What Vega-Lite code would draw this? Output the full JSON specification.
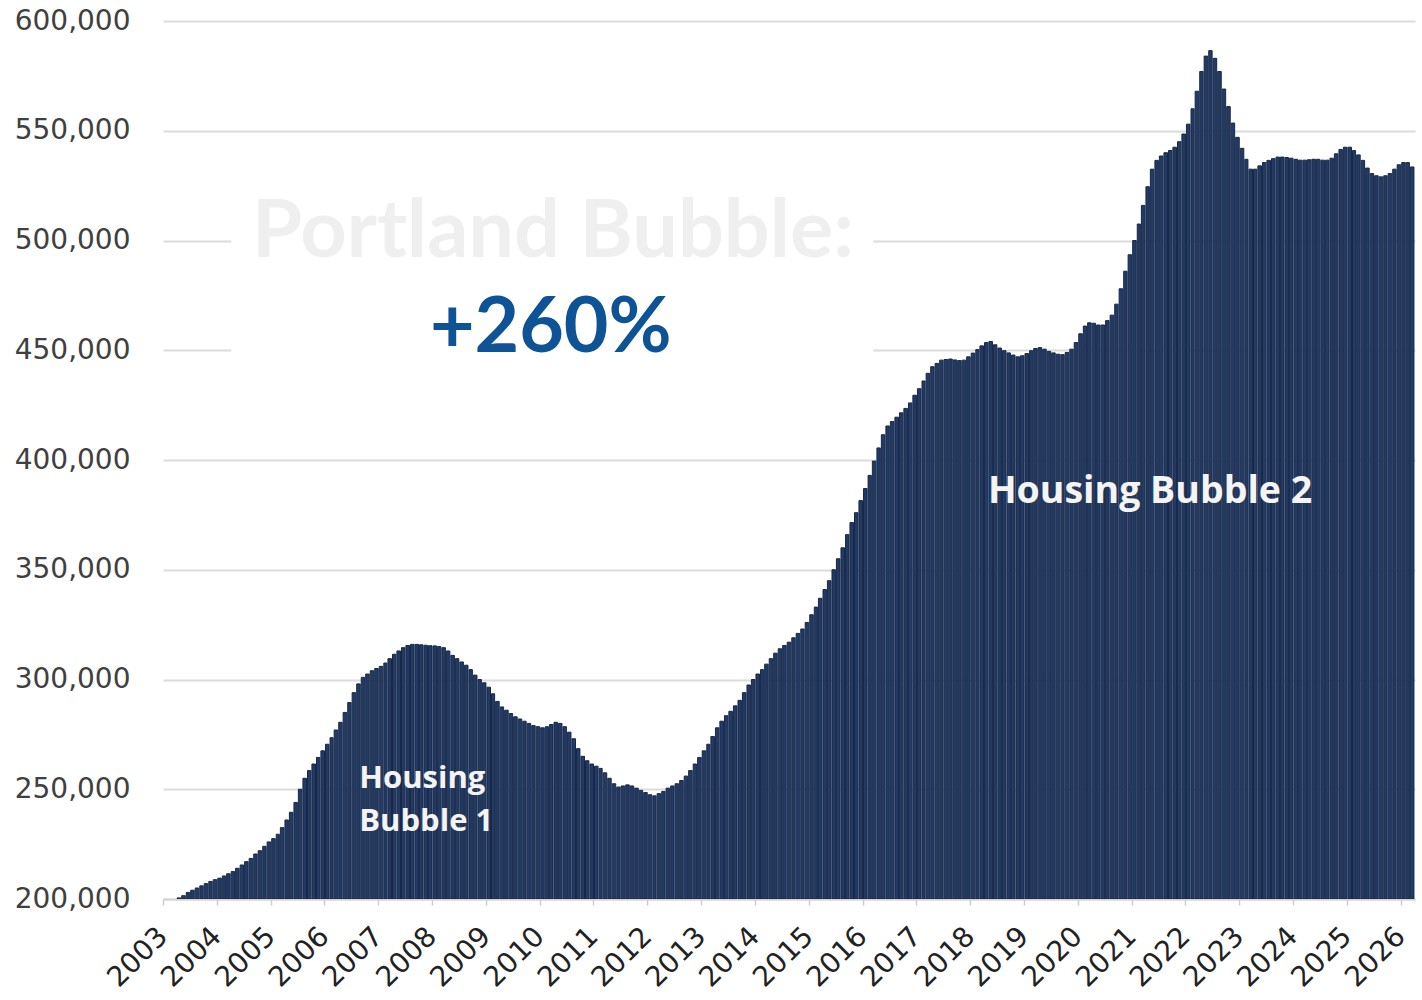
{
  "$schema": "https://vega.github.io/schema/vega-lite/v6.json",
  "width": 1252,
  "height": 878,
  "autosize": "none",
  "padding": {"left": 163, "top": 21, "right": 7, "bottom": 101},
  "background": "white",
  "config": {"view": {"stroke": null}},
  "datasets": {
    "notes": [
      {"label": "box", "date": "2004-04-08", "date2": "2016-03-15", "price": 540000, "price2": 430000},
      {"label": "Portland Bubble:", "date": "2010-04-01", "price": 492500},
      {"label": "+260%", "date": "2010-03-17", "price": 449200},
      {"label": "Housing Bubble 2", "date": "2018-05-01", "price": 380400},
      {"label": "Housing", "date": "2006-08-25", "price": 250550},
      {"label": "Bubble 1", "date": "2006-08-25", "price": 230960}
    ],
    "prices": [
    {"date":"2003-04","price":200500},{"date":"2003-05","price":201500},{"date":"2003-06","price":203000},{"date":"2003-07","price":204000},{"date":"2003-08","price":205000},{"date":"2003-09","price":206000},{"date":"2003-10","price":207000},{"date":"2003-11","price":208000},{"date":"2003-12","price":208800},
    {"date":"2004-01","price":209500},{"date":"2004-02","price":210500},{"date":"2004-03","price":211500},{"date":"2004-04","price":212500},{"date":"2004-05","price":214000},{"date":"2004-06","price":215500},{"date":"2004-07","price":217000},{"date":"2004-08","price":218500},{"date":"2004-09","price":220500},{"date":"2004-10","price":222000},{"date":"2004-11","price":224000},{"date":"2004-12","price":226000},
    {"date":"2005-01","price":227500},{"date":"2005-02","price":229500},{"date":"2005-03","price":232500},{"date":"2005-04","price":236000},{"date":"2005-05","price":239500},{"date":"2005-06","price":244000},{"date":"2005-07","price":250000},{"date":"2005-08","price":255000},{"date":"2005-09","price":258500},{"date":"2005-10","price":261500},{"date":"2005-11","price":264500},{"date":"2005-12","price":267500},
    {"date":"2006-01","price":270500},{"date":"2006-02","price":273500},{"date":"2006-03","price":277000},{"date":"2006-04","price":280500},{"date":"2006-05","price":285000},{"date":"2006-06","price":289500},{"date":"2006-07","price":294000},{"date":"2006-08","price":298000},{"date":"2006-09","price":301000},{"date":"2006-10","price":302500},{"date":"2006-11","price":304000},{"date":"2006-12","price":305000},
    {"date":"2007-01","price":306000},{"date":"2007-02","price":307500},{"date":"2007-03","price":309500},{"date":"2007-04","price":311500},{"date":"2007-05","price":313000},{"date":"2007-06","price":314500},{"date":"2007-07","price":315500},{"date":"2007-08","price":316000},{"date":"2007-09","price":316000},{"date":"2007-10","price":315800},{"date":"2007-11","price":315600},{"date":"2007-12","price":315400},
    {"date":"2008-01","price":315300},{"date":"2008-02","price":315000},{"date":"2008-03","price":314500},{"date":"2008-04","price":313000},{"date":"2008-05","price":311000},{"date":"2008-06","price":309500},{"date":"2008-07","price":308000},{"date":"2008-08","price":306500},{"date":"2008-09","price":304500},{"date":"2008-10","price":302000},{"date":"2008-11","price":300000},{"date":"2008-12","price":298500},
    {"date":"2009-01","price":296500},{"date":"2009-02","price":293500},{"date":"2009-03","price":290000},{"date":"2009-04","price":287500},{"date":"2009-05","price":286000},{"date":"2009-06","price":284500},{"date":"2009-07","price":283000},{"date":"2009-08","price":282000},{"date":"2009-09","price":281000},{"date":"2009-10","price":280000},{"date":"2009-11","price":279000},{"date":"2009-12","price":278500},
    {"date":"2010-01","price":278000},{"date":"2010-02","price":278500},{"date":"2010-03","price":279500},{"date":"2010-04","price":280500},{"date":"2010-05","price":280000},{"date":"2010-06","price":278500},{"date":"2010-07","price":276000},{"date":"2010-08","price":273000},{"date":"2010-09","price":268500},{"date":"2010-10","price":265000},{"date":"2010-11","price":263000},{"date":"2010-12","price":261500},
    {"date":"2011-01","price":260500},{"date":"2011-02","price":259500},{"date":"2011-03","price":257500},{"date":"2011-04","price":255000},{"date":"2011-05","price":252500},{"date":"2011-06","price":251000},{"date":"2011-07","price":251500},{"date":"2011-08","price":252000},{"date":"2011-09","price":251500},{"date":"2011-10","price":250500},{"date":"2011-11","price":249500},{"date":"2011-12","price":248500},
    {"date":"2012-01","price":247500},{"date":"2012-02","price":247000},{"date":"2012-03","price":248000},{"date":"2012-04","price":249000},{"date":"2012-05","price":250500},{"date":"2012-06","price":251500},{"date":"2012-07","price":252500},{"date":"2012-08","price":254000},{"date":"2012-09","price":256000},{"date":"2012-10","price":258500},{"date":"2012-11","price":261500},{"date":"2012-12","price":264500},
    {"date":"2013-01","price":267500},{"date":"2013-02","price":270500},{"date":"2013-03","price":274000},{"date":"2013-04","price":278000},{"date":"2013-05","price":281000},{"date":"2013-06","price":283500},{"date":"2013-07","price":285500},{"date":"2013-08","price":288000},{"date":"2013-09","price":290500},{"date":"2013-10","price":294000},{"date":"2013-11","price":297500},{"date":"2013-12","price":300000},
    {"date":"2014-01","price":302500},{"date":"2014-02","price":304500},{"date":"2014-03","price":307000},{"date":"2014-04","price":309500},{"date":"2014-05","price":312000},{"date":"2014-06","price":314000},{"date":"2014-07","price":315500},{"date":"2014-08","price":317000},{"date":"2014-09","price":319000},{"date":"2014-10","price":321000},{"date":"2014-11","price":323000},{"date":"2014-12","price":326000},
    {"date":"2015-01","price":329500},{"date":"2015-02","price":333000},{"date":"2015-03","price":337000},{"date":"2015-04","price":341000},{"date":"2015-05","price":345000},{"date":"2015-06","price":350000},{"date":"2015-07","price":355000},{"date":"2015-08","price":360000},{"date":"2015-09","price":366000},{"date":"2015-10","price":371500},{"date":"2015-11","price":376000},{"date":"2015-12","price":381500},
    {"date":"2016-01","price":387000},{"date":"2016-02","price":393000},{"date":"2016-03","price":399500},{"date":"2016-04","price":405500},{"date":"2016-05","price":411500},{"date":"2016-06","price":415500},{"date":"2016-07","price":417500},{"date":"2016-08","price":419500},{"date":"2016-09","price":421500},{"date":"2016-10","price":423500},{"date":"2016-11","price":426000},{"date":"2016-12","price":429500},
    {"date":"2017-01","price":432500},{"date":"2017-02","price":436000},{"date":"2017-03","price":439500},{"date":"2017-04","price":442500},{"date":"2017-05","price":444000},{"date":"2017-06","price":445500},{"date":"2017-07","price":445800},{"date":"2017-08","price":446000},{"date":"2017-09","price":445600},{"date":"2017-10","price":445300},{"date":"2017-11","price":445500},{"date":"2017-12","price":447000},
    {"date":"2018-01","price":448700},{"date":"2018-02","price":450300},{"date":"2018-03","price":452000},{"date":"2018-04","price":453500},{"date":"2018-05","price":454000},{"date":"2018-06","price":452500},{"date":"2018-07","price":451000},{"date":"2018-08","price":449800},{"date":"2018-09","price":448800},{"date":"2018-10","price":447800},{"date":"2018-11","price":447000},{"date":"2018-12","price":447500},
    {"date":"2019-01","price":448500},{"date":"2019-02","price":449800},{"date":"2019-03","price":450800},{"date":"2019-04","price":451200},{"date":"2019-05","price":450500},{"date":"2019-06","price":449500},{"date":"2019-07","price":448800},{"date":"2019-08","price":448200},{"date":"2019-09","price":448000},{"date":"2019-10","price":449000},{"date":"2019-11","price":450500},{"date":"2019-12","price":453500},
    {"date":"2020-01","price":457500},{"date":"2020-02","price":461000},{"date":"2020-03","price":462500},{"date":"2020-04","price":462300},{"date":"2020-05","price":461500},{"date":"2020-06","price":461500},{"date":"2020-07","price":463500},{"date":"2020-08","price":466000},{"date":"2020-09","price":471000},{"date":"2020-10","price":478000},{"date":"2020-11","price":486000},{"date":"2020-12","price":493500},
    {"date":"2021-01","price":500000},{"date":"2021-02","price":507500},{"date":"2021-03","price":516000},{"date":"2021-04","price":524500},{"date":"2021-05","price":532500},{"date":"2021-06","price":536500},{"date":"2021-07","price":538500},{"date":"2021-08","price":540000},{"date":"2021-09","price":541000},{"date":"2021-10","price":542500},{"date":"2021-11","price":545000},{"date":"2021-12","price":548500},
    {"date":"2022-01","price":553000},{"date":"2022-02","price":560000},{"date":"2022-03","price":568000},{"date":"2022-04","price":577000},{"date":"2022-05","price":584000},{"date":"2022-06","price":586500},{"date":"2022-07","price":583000},{"date":"2022-08","price":577000},{"date":"2022-09","price":569000},{"date":"2022-10","price":561000},{"date":"2022-11","price":553500},{"date":"2022-12","price":547000},
    {"date":"2023-01","price":542000},{"date":"2023-02","price":537000},{"date":"2023-03","price":532500},{"date":"2023-04","price":532500},{"date":"2023-05","price":534000},{"date":"2023-06","price":535500},{"date":"2023-07","price":536500},{"date":"2023-08","price":537300},{"date":"2023-09","price":538000},{"date":"2023-10","price":538000},{"date":"2023-11","price":537800},{"date":"2023-12","price":537500},
    {"date":"2024-01","price":537000},{"date":"2024-02","price":536600},{"date":"2024-03","price":536600},{"date":"2024-04","price":536800},{"date":"2024-05","price":537000},{"date":"2024-06","price":537000},{"date":"2024-07","price":536600},{"date":"2024-08","price":536600},{"date":"2024-09","price":537500},{"date":"2024-10","price":539500},{"date":"2024-11","price":541500},{"date":"2024-12","price":542500},
    {"date":"2025-01","price":542500},{"date":"2025-02","price":541000},{"date":"2025-03","price":539000},{"date":"2025-04","price":536500},{"date":"2025-05","price":533000},{"date":"2025-06","price":530500},{"date":"2025-07","price":529500},{"date":"2025-08","price":529000},{"date":"2025-09","price":529500},{"date":"2025-10","price":530500},{"date":"2025-11","price":532500},{"date":"2025-12","price":534500},
    {"date":"2026-01","price":535500},{"date":"2026-02","price":535500},{"date":"2026-03","price":533500}
    ]
  },
  "layer": [
    {
      "data": {"name": "prices"},
      "mark": {"type": "bar", "fill": "#223a64", "stroke": "#172847", "strokeWidth": 1, "clip": true},
      "encoding": {
        "x": {
          "field": "date", "timeUnit": "utcyearmonth", "type": "temporal",
          "scale": {"type": "utc", "domain": [{"year": 2003, "month": 1, "date": 1, "utc": true}, {"year": 2026, "month": 4, "date": 8, "utc": true}]},
          "axis": {
            "title": null,
            "labelExpr": "utcFormat(datum.value, '%Y')",
            "tickCount": {"interval": "year", "step": 1},
            "grid": false,
            "domain": true, "domainColor": "#d4d4d4", "domainWidth": 2,
            "ticks": true, "tickColor": "#cccccc", "tickSize": 6, "tickWidth": 1.5,
            "labelAngle": -45, "labelAlign": "right", "labelBaseline": "middle",
            "labelPadding": 27, "labelFont": "DejaVu Sans", "labelFontSize": 28,
            "labelColor": "#222222", "labelOverlap": false, "labelFlush": false
          }
        },
        "y": {
          "field": "price", "type": "quantitative",
          "scale": {"domain": [200000, 600000], "zero": false, "nice": false},
          "axis": {
            "title": null, "format": ",d",
            "values": [200000, 250000, 300000, 350000, 400000, 450000, 500000, 550000, 600000],
            "grid": true, "gridColor": "#dcdcdc", "gridWidth": 2,
            "domain": false, "ticks": false,
            "labelPadding": 33, "labelFont": "DejaVu Sans", "labelFontSize": 28,
            "labelColor": "#404040", "labelFlush": false
          }
        },
        "y2": {"datum": 200000}
      }
    },
    {
      "data": {"name": "notes"},
      "transform": [{"filter": "datum.label === 'box'"}],
      "mark": {"type": "rect", "fill": "white"},
      "encoding": {
        "x": {"field": "date", "type": "temporal"},
        "x2": {"field": "date2"},
        "y": {"field": "price", "type": "quantitative"},
        "y2": {"field": "price2"}
      }
    },
    {
      "data": {"name": "notes"},
      "transform": [{"filter": "datum.label === 'Portland Bubble:'"}],
      "mark": {"type": "text", "font": "Lato", "fontWeight": "bold", "fontSize": 81, "color": "#efefef", "align": "center", "baseline": "alphabetic"},
      "encoding": {
        "x": {"field": "date", "type": "temporal"},
        "y": {"field": "price", "type": "quantitative"},
        "text": {"field": "label"}
      }
    },
    {
      "data": {"name": "notes"},
      "transform": [{"filter": "datum.label === '+260%'"}],
      "mark": {"type": "text", "font": "Lato", "fontWeight": "bold", "fontSize": 77, "color": "#0e5396", "align": "center", "baseline": "alphabetic"},
      "encoding": {
        "x": {"field": "date", "type": "temporal"},
        "y": {"field": "price", "type": "quantitative"},
        "text": {"field": "label"}
      }
    },
    {
      "data": {"name": "notes"},
      "transform": [{"filter": "datum.label === 'Housing Bubble 2'"}],
      "mark": {"type": "text", "font": "Open Sans", "fontWeight": "bold", "fontSize": 37.5, "color": "#f4f4f4", "align": "left", "baseline": "alphabetic"},
      "encoding": {
        "x": {"field": "date", "type": "temporal"},
        "y": {"field": "price", "type": "quantitative"},
        "text": {"field": "label"}
      }
    },
    {
      "data": {"name": "notes"},
      "transform": [{"filter": "datum.label === 'Housing' || datum.label === 'Bubble 1'"}],
      "mark": {"type": "text", "font": "Open Sans", "fontWeight": "bold", "fontSize": 31, "color": "#f4f4f4", "align": "left", "baseline": "alphabetic"},
      "encoding": {
        "x": {"field": "date", "type": "temporal"},
        "y": {"field": "price", "type": "quantitative"},
        "text": {"field": "label"}
      }
    }
  ]
}
